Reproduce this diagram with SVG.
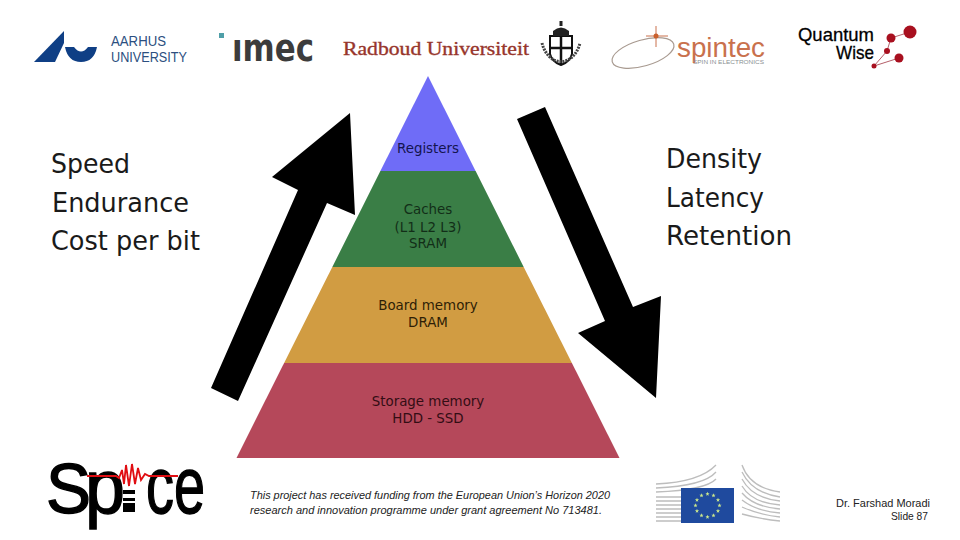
<svg xmlns="http://www.w3.org/2000/svg" width="960" height="540" viewBox="0 0 960 540">
<style>
.big{font-family:"DejaVu Sans",sans-serif;font-size:26.5px;fill:#1a1a1a}
.py{font-family:"DejaVu Sans",sans-serif;font-size:13.4px;text-anchor:middle}
.foot{font-family:"Liberation Sans",sans-serif;font-style:italic;font-size:10.5px;fill:#222}
.sl{font-family:"Liberation Sans",sans-serif;font-size:10.5px;fill:#222;text-anchor:end}
.bar{fill:none;stroke:#bdbdbd;stroke-width:1.3}
.sp{font-family:"Liberation Sans",sans-serif;fill:#000;stroke:#000;stroke-width:1.4}
</style>
<defs>
<polygon id="star" points="0,-2.2 0.6,-0.7 2.1,-0.7 0.9,0.3 1.3,1.8 0,0.9 -1.3,1.8 -0.9,0.3 -2.1,-0.7 -0.6,-0.7" fill="#c9e58c"/>
</defs>
<rect width="960" height="540" fill="#fff"/>

<g id="logo-aarhus">
<path d="M34 62L64 31V43L55 62Z" fill="#0f3f85"/>
<path d="M65 47H74Q81 56 88 47H97Q94 62 81 62Q68 62 65 47Z" fill="#0f3f85"/>
<text x="111" y="46" font-family="'Liberation Sans',sans-serif" font-size="14" fill="#2c4f80" textLength="55" lengthAdjust="spacingAndGlyphs">AARHUS</text>
<text x="111" y="62" font-family="'Liberation Sans',sans-serif" font-size="14" fill="#2c4f80" textLength="76" lengthAdjust="spacingAndGlyphs">UNIVERSITY</text>
</g>

<g id="logo-imec">
<rect x="219" y="33" width="5" height="5" fill="#4f9fa8"/>
<text x="232" y="61" font-family="'DejaVu Sans',sans-serif" font-weight="bold" font-size="38" fill="#3c3c3c" textLength="82" lengthAdjust="spacingAndGlyphs">ımec</text>
</g>

<g id="logo-radboud">
<text x="343" y="55" font-family="'Liberation Serif',serif" font-size="18.5" fill="#97352b" stroke="#97352b" stroke-width="0.35" textLength="186" lengthAdjust="spacingAndGlyphs">Radboud Universiteit</text>
<path d="M550 36H572V54Q570 62 561 65Q552 62 550 54Z" fill="#fff" stroke="#111" stroke-width="2"/>
<path d="M561 36V65M550 48H572" stroke="#111" stroke-width="2.5"/>
<path d="M553 36V31Q561 24 569 31V36Z" fill="#222"/>
<rect x="559.500" y="21" width="3" height="5" fill="#222"/>
<path d="M542 43A20 27 0 0 0 580 43" fill="none" stroke="#444" stroke-width="3" stroke-dasharray="2 1"/>
</g>

<g id="logo-spintec">
<ellipse cx="643" cy="53" rx="32" ry="13" transform="rotate(-16 643 53)" fill="none" stroke="#a89a90" stroke-width="1.200"/>
<path d="M656 26V47" stroke="#c9714d" stroke-width="1"/>
<path d="M646 36H668" stroke="#c9714d" stroke-width="1"/>
<circle cx="656" cy="36" r="2.500" fill="#c9602d"/>
<text x="677" y="57" font-family="'Liberation Sans',sans-serif" font-size="27" fill="#c9714d" textLength="88" lengthAdjust="spacingAndGlyphs">spintec</text>
<text x="693" y="64" font-family="'Liberation Sans',sans-serif" font-size="6" fill="#8a8f92" textLength="71" lengthAdjust="spacingAndGlyphs">SPIN IN ELECTRONICS</text>
</g>

<g id="logo-quantumwise">
<text x="798" y="41" font-family="'Liberation Sans',sans-serif" font-size="19" fill="#000" stroke="#000" stroke-width="0.3" textLength="76" lengthAdjust="spacingAndGlyphs">Quantum</text>
<text x="836" y="59" font-family="'Liberation Sans',sans-serif" font-size="19" fill="#000" stroke="#000" stroke-width="0.3" textLength="38" lengthAdjust="spacingAndGlyphs">Wise</text>
<path d="M891 38L910 32M891 38L887 51L874 66L899 58" fill="none" stroke="#b5606a" stroke-width="1"/>
<circle cx="910" cy="32" r="6.500" fill="#a8101f"/>
<circle cx="891" cy="38" r="4.500" fill="#a8101f"/>
<circle cx="887" cy="51" r="3" fill="#a8101f"/>
<circle cx="899" cy="58" r="4.500" fill="#a8101f"/>
<circle cx="874" cy="66" r="2.500" fill="#a8101f"/>
</g>

<g id="tier-registers">
<polygon points="428,76 475.600,171 380.400,171" fill="#6f6cf7"/>
<text class="py" x="428" y="153" fill="#14144f">Registers</text>
</g>
<g id="tier-caches">
<polygon points="380.400,171 475.600,171 523.700,267 332.300,267" fill="#3a7e46"/>
<text class="py" x="428" y="214" fill="#122e18">Caches</text>
<text class="py" x="428" y="232" fill="#122e18">(L1 L2 L3)</text>
<text class="py" x="428" y="248" fill="#122e18">SRAM</text>
</g>
<g id="tier-board">
<polygon points="332.300,267 523.700,267 571.900,363 284.100,363" fill="#d19c42"/>
<text class="py" x="428" y="310" fill="#2e1e06">Board memory</text>
<text class="py" x="428" y="327" fill="#2e1e06">DRAM</text>
</g>
<g id="tier-storage">
<polygon points="284.100,363 571.900,363 619.500,458 236.500,458" fill="#b5485a"/>
<text class="py" x="428" y="406" fill="#330d14">Storage memory</text>
<text class="py" x="428" y="423" fill="#330d14">HDD - SSD</text>
</g>

<g id="connectors" fill="#000">
<polygon points="211,388 238,401 327,203 355,215 350,113 272,177 298,190"/>
<polygon points="517,119 545,107 633,307 661,296 656,398 578,333 605,321"/>
</g>

<g id="label-left">
<text class="big" x="51" y="173" textLength="79" lengthAdjust="spacingAndGlyphs">Speed</text>
<text class="big" x="52" y="212" textLength="137" lengthAdjust="spacingAndGlyphs">Endurance</text>
<text class="big" x="51" y="250" textLength="149" lengthAdjust="spacingAndGlyphs">Cost per bit</text>
</g>
<g id="label-right">
<text class="big" x="666" y="168" textLength="96" lengthAdjust="spacingAndGlyphs">Density</text>
<text class="big" x="666" y="207" textLength="98" lengthAdjust="spacingAndGlyphs">Latency</text>
<text class="big" x="666" y="245" textLength="126" lengthAdjust="spacingAndGlyphs">Retention</text>
</g>

<g id="logo-spice">
<text class="sp" x="46" y="513" font-size="70" textLength="45" lengthAdjust="spacingAndGlyphs">S</text>
<text class="sp" x="85" y="513" font-size="76" textLength="40" lengthAdjust="spacingAndGlyphs">p</text>
<rect x="123" y="490" width="12" height="4" fill="#000"/>
<rect x="123" y="498" width="12" height="3" fill="#000"/>
<rect x="123" y="503" width="12" height="9" fill="#000"/>
<text class="sp" x="146" y="513" font-size="80" textLength="59" lengthAdjust="spacingAndGlyphs">ce</text>
<path d="M87 476H116L119 478L122 470L124 484L126 465L129 486L132 464L135 484L138 468L141 480L145 474L149 476H178" fill="none" stroke="#e00d12" stroke-width="1.800"/>
</g>

<g id="funding-text">
<text class="foot" x="250" y="499" textLength="360" lengthAdjust="spacingAndGlyphs">This project has received funding from the European Union’s Horizon 2020</text>
<text class="foot" x="250" y="514" textLength="352" lengthAdjust="spacingAndGlyphs">research and innovation programme under grant agreement No 713481.</text>
</g>

<g id="logo-eu">
<path class="bar" d="M656 484Q700 482 716 465M656 488Q704 486 716 472M656 492Q706 490 716 479"/>
<path class="bar" d="M656 497H681M656 501H681M656 505H681M656 509H681M656 513H681M656 517H681M656 521H681"/>
<path class="bar" d="M742 465Q750 488 780 492M742 472Q752 493 780 497M742 479Q752 498 780 501M742 486Q752 503 780 505M742 493Q754 507 780 509M742 500Q756 511 780 513M742 507Q760 515 780 517M742 514Q760 519 780 521"/>
<rect x="681" y="488" width="53" height="35" fill="#1f4a9e"/>
<use href="#star" x="707.500" y="494"/><use href="#star" x="713.500" y="495.500"/><use href="#star" x="718" y="500"/><use href="#star" x="719.500" y="505.500"/><use href="#star" x="718" y="511"/><use href="#star" x="713.500" y="515.500"/><use href="#star" x="707.500" y="517"/><use href="#star" x="701.500" y="515.500"/><use href="#star" x="697" y="511"/><use href="#star" x="695.500" y="505.500"/><use href="#star" x="697" y="500"/><use href="#star" x="701.500" y="495.500"/>
</g>

<g id="slide-info">
<text class="sl" x="930" y="507" textLength="94" lengthAdjust="spacingAndGlyphs">Dr. Farshad Moradi</text>
<text class="sl" x="928" y="520" textLength="37" lengthAdjust="spacingAndGlyphs">Slide 87</text>
</g>
</svg>
